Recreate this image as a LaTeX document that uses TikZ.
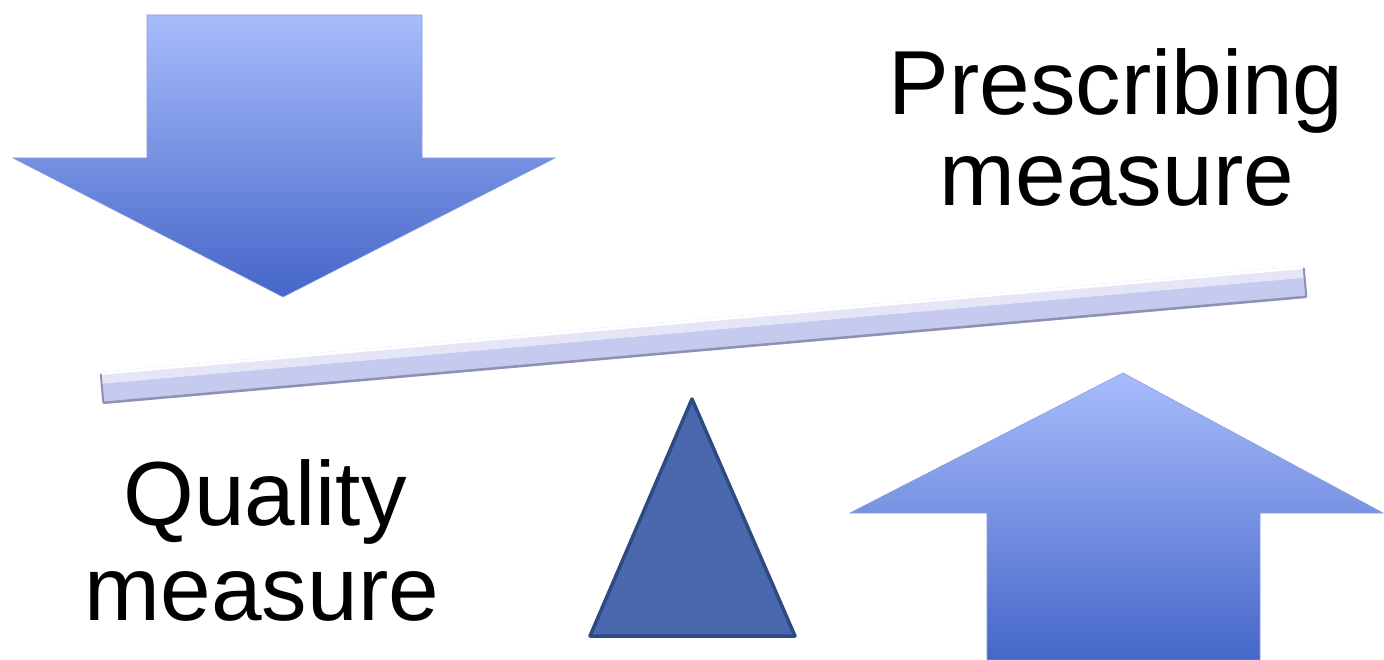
\documentclass[tikz,border=0pt]{standalone}
\usepackage{fontspec}
\setmainfont{Liberation Sans}
\usetikzlibrary{calc}
\begin{document}
\begin{tikzpicture}[x=1pt,y=-1pt,
  bigarrow/.style={shading=axis, top color=arrowtop, bottom color=arrowbot, draw=arrowedge, line width=0.6pt},
  label/.style={anchor=base, inner sep=0pt, font=\fontsize{91}{95}\selectfont, text=black},
  fulcrum/.style={fill=fulcrumfill, draw=fulcrumedge, line width=3.5pt, line join=round},
  beambody/.style={line width=32pt, draw=beammid, line cap=butt},
  beamlight/.style={line width=11pt, draw=beamtop, line cap=butt},
  beamhigh/.style={line width=3pt, draw=white, line cap=butt},
  beamshadow/.style={line width=2.5pt, draw=beamedge, line cap=butt},
  beamcap/.style={line width=2pt, draw=beamedge, line cap=round}
]
\definecolor{arrowtop}{HTML}{A8BCFC}
\definecolor{arrowbot}{HTML}{4566C8}
\definecolor{arrowedge}{HTML}{8A9CDC}
\definecolor{fulcrumfill}{HTML}{4A68AE}
\definecolor{fulcrumedge}{HTML}{2F4A80}
\definecolor{beamtop}{HTML}{E4E6F8}
\definecolor{beammid}{HTML}{C6CAEF}
\definecolor{beamedge}{HTML}{8E92B2}
\useasboundingbox (0,0) rectangle (1384,660);
\fill[white] (0,0) rectangle (1384,660);
% down arrow
\path[bigarrow] (147,15) -- (422,15) -- (422,158) -- (555,158) -- (283,297) -- (13,158) -- (147,158) -- cycle;
% up arrow
\path[bigarrow] (987,660) -- (987,513) -- (850,513) -- (1123,373) -- (1383,513) -- (1260,513) -- (1260,660) -- cycle;
% beam
\coordinate (bl) at (102,388);
\coordinate (br) at (1305,282);
\draw[beambody] (bl) -- (br);
\draw[beamlight] ($(bl)+(-0.85,-9.7)$) -- ($(br)+(-0.85,-9.7)$);
\draw[beamhigh] ($(bl)+(-1.3,-14.5)$) -- ($(br)+(-1.3,-14.5)$);
\draw[beamshadow] ($(bl)+(1.3,14.8)$) -- ($(br)+(1.3,14.8)$);
\draw[beamcap] ($(bl)+(-1.2,-13.5)$) -- ($(bl)+(1.3,14.5)$);
\draw[beamcap] ($(br)+(-1.2,-13.5)$) -- ($(br)+(1.3,14.5)$);
% fulcrum
\path[fulcrum] (692,399) -- (795,636) -- (590,636) -- cycle;
% labels
\node[label] (p1) at (1116,115) {Prescribing};
\node[label] (p2) at (1117,206) {measure};
\node[label] (q1) at (265,525) {Quality};
\node[label] (q2) at (262,620) {measure};
\end{tikzpicture}
\end{document}
